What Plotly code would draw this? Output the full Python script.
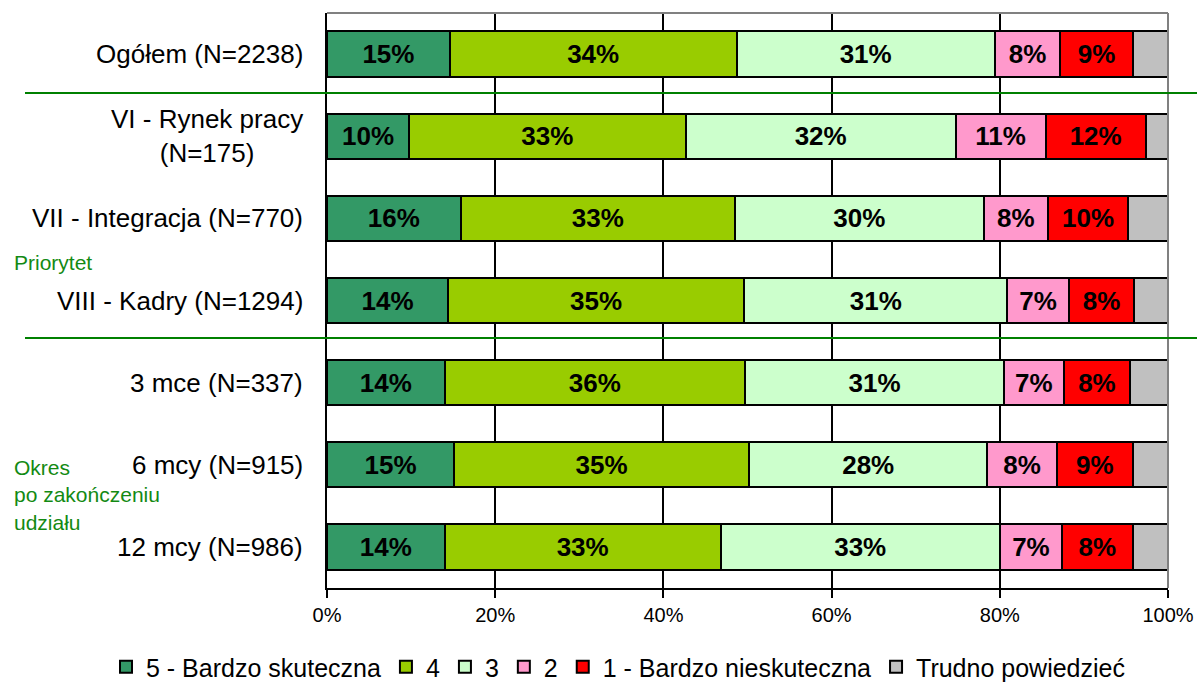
import plotly.graph_objects as go

categories = ["Ogółem (N=2238)", "VI - Rynek pracy<br>(N=175)", "VII - Integracja (N=770)",
              "VIII - Kadry (N=1294)", "3 mce (N=337)", "6 mcy (N=915)", "12 mcy (N=986)"]
series_names = ["5 - Bardzo skuteczna", "4", "3", "2", "1 - Bardzo nieskuteczna", "Trudno powiedzieć"]
v5 = [14.6, 9.75, 15.9, 14.4, 14.0, 15.1, 14.0]
v4 = [34.1, 32.9, 32.6, 35.2, 35.7, 35.1, 32.8]
v3 = [30.7, 32.1, 29.6, 31.3, 30.8, 28.3, 33.2]
v2 = [7.8, 10.7, 7.6, 7.3, 7.1, 8.3, 7.4]
v1 = [8.6, 11.9, 9.6, 7.8, 7.9, 9.0, 8.4]
vt = [4.2, 2.65, 4.7, 4.0, 4.5, 4.2, 4.2]
series_values = [v5, v4, v3, v2, v1, vt]
colors = ["#339966", "#99CC00", "#CCFFCC", "#FF99CC", "#FF0000", "#C0C0C0"]
x_tickvals = [0, 20, 40, 60, 80, 100]
x_ticktext = ["0%", "20%", "40%", "60%", "80%", "100%"]

FONT = "Arial, Liberation Sans, sans-serif"

fig = go.Figure()
for i, (name, vals, col) in enumerate(zip(series_names, series_values, colors)):
    labeled = i < 5
    fig.add_trace(go.Bar(
        y=categories, x=vals, name=name, orientation="h",
        marker=dict(color=col, line=dict(color="#000000", width=2)),
        texttemplate="%{x:.0f}%" if labeled else "",
        textposition="inside" if labeled else "none",
        insidetextanchor="middle",
        textfont=dict(family=FONT, size=26, color="black", weight="bold"),
        constraintext="none",
        hoverinfo="skip",
    ))

L, R, T, B = 327, 29, 13, 103
W, H = 1197, 691
pw = W - L - R
ph = H - T - B

fig.update_layout(
    width=W, height=H, barmode="stack", bargap=0.45,
    margin=dict(l=L, r=R, t=T, b=B, autoexpand=False),
    plot_bgcolor="white", paper_bgcolor="white",
    font=dict(family=FONT, color="black"),
    legend=dict(orientation="h", xref="paper", yref="paper",
                x=(106 - L) / pw, xanchor="left",
                y=(ph + T - 690) / ph, yanchor="bottom",
                font=dict(size=25, family=FONT, color="black"), traceorder="normal",
                itemwidth=30, bgcolor="rgba(0,0,0,0)", borderwidth=0),
    showlegend=True,
    xaxis=dict(range=[0, 100], tickmode="array", tickvals=x_tickvals, ticktext=x_ticktext,
               showgrid=True, gridcolor="black", gridwidth=2,
               showline=True, linecolor="black", linewidth=2,
               ticks="outside", ticklen=8, tickwidth=2, tickcolor="black",
               tickfont=dict(size=20, family=FONT, color="black"),
               zeroline=False, fixedrange=True, automargin=False),
    yaxis=dict(autorange="reversed", showticklabels=False, showgrid=False,
               showline=True, linecolor="black", linewidth=2, ticks="",
               fixedrange=True, automargin=False),
)

# category labels placed via the y axis scale
for c in categories:
    fig.add_annotation(x=0, xref="paper", y=c, yref="y", text=c, showarrow=False,
                       xanchor="right", xshift=-22, align="center",
                       font=dict(size=26, family=FONT, color="black"))

# grey top/right frame
fig.add_shape(type="line", xref="paper", yref="paper", x0=0, x1=1, y0=1, y1=1,
              line=dict(color="#808080", width=2))
fig.add_shape(type="line", xref="paper", yref="paper", x0=1, x1=1, y0=0, y1=1,
              line=dict(color="#808080", width=2))

# green group dividers
for py in [93, 338]:
    yp = (ph + T - py) / ph
    fig.add_shape(type="line", xref="paper", yref="paper",
                  x0=(25 - L) / pw, x1=(W - L) / pw, y0=yp, y1=yp,
                  line=dict(color="#008000", width=2))

green = "#138a13"
fig.add_annotation(x=(12 - L) / pw, xref="paper", y=(ph + T - 262) / ph, yref="paper",
                   text="Priorytet", showarrow=False, xanchor="left", yanchor="middle",
                   font=dict(size=21, family=FONT, color=green))
fig.add_annotation(x=(12 - L) / pw, xref="paper", y=(ph + T - 495) / ph, yref="paper",
                   text="Okres<br>po zakończeniu<br>udziału", showarrow=False,
                   xanchor="left", yanchor="middle", align="left",
                   font=dict(size=21, family=FONT, color=green))

fig.write_html("out.html", config={"displayModeBar": False},
               post_script="document.body.style.margin='0';")
